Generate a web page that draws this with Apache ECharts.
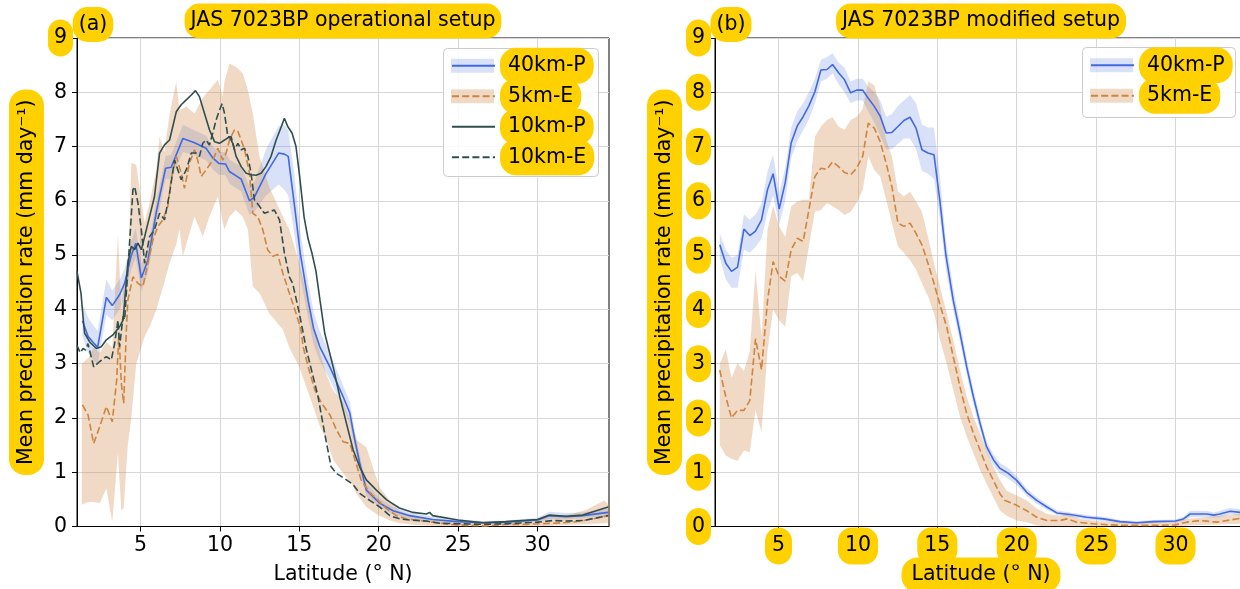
<!DOCTYPE html>
<html><head><meta charset="utf-8">
<script src="https://cdn.jsdelivr.net/npm/echarts@6/dist/echarts.min.js"></script>
<style>html,body{margin:0;padding:0;background:#fff}#c{width:1240px;height:589px}</style>
</head><body><div id="c"></div>
<script>
// ---------------- data ----------------
const xTicks = [5, 10, 15, 20, 25, 30];
const yTicks = [0, 1, 2, 3, 4, 5, 6, 7, 8, 9];
const titleA = 'JAS 7023BP operational setup';
const titleB = 'JAS 7023BP modified setup';
const xName = 'Latitude (° N)';
const yName = 'Mean precipitation rate (mm day⁻¹)';

// panel (a): [latitude, value]
const a40kmP = [[1.34,3.79],[1.7,3.5],[2.05,3.38],[2.3,3.3],[2.85,4.22],[3.22,4.07],[3.68,4.27],[4.0,4.48],[4.4,4.98],[4.7,5.22],[5.05,4.58],[5.47,4.91],[6.0,5.8],[6.58,6.6],[6.93,6.62],[7.67,7.15],[8.4,7.07],[9.13,6.97],[9.55,6.79],[9.93,6.69],[10.35,6.68],[10.6,6.54],[11.34,6.4],[11.86,6.0],[12.17,6.07],[12.9,6.5],[13.7,6.88],[14.06,6.86],[14.3,6.82],[14.68,5.95],[15.06,5.03],[15.55,4.17],[15.9,3.65],[16.29,3.31],[16.92,2.94],[17.76,2.39],[18.18,2.09],[18.49,1.6],[18.8,1.17],[19.22,0.67],[20.06,0.43],[20.9,0.29],[21.95,0.2],[23.4,0.13],[25,0.09],[26.6,0.07],[28,0.08],[30,0.12],[30.75,0.2],[31.8,0.18],[32.85,0.2],[34.45,0.26]];
// [latitude, low, high]
const a40kmPBand = [[1.34,3.5,4.1],[1.7,3.2,3.85],[2.05,3.05,3.7],[2.3,3.0,3.6],[2.85,3.9,4.55],[3.22,3.8,4.35],[3.68,4.0,4.55],[4.0,4.2,4.75],[4.4,4.72,5.25],[4.7,4.95,5.5],[5.05,4.33,4.83],[5.47,4.68,5.14],[6.0,5.58,6.02],[6.58,6.4,6.82],[6.93,6.4,6.85],[7.67,6.9,7.4],[8.4,6.84,7.3],[9.13,6.75,7.2],[9.55,6.58,7.0],[9.93,6.48,6.9],[10.35,6.47,6.9],[10.6,6.32,6.76],[11.34,6.17,6.63],[11.86,5.74,6.26],[12.17,5.8,6.35],[12.9,6.1,6.95],[13.7,6.3,7.38],[14.06,6.2,7.4],[14.3,6.1,7.3],[14.68,5.4,6.5],[15.06,4.6,5.45],[15.55,3.85,4.5],[15.9,3.35,3.95],[16.29,3.05,3.6],[16.92,2.7,3.2],[17.76,2.2,2.6],[18.18,1.9,2.3],[18.49,1.45,1.78],[18.8,1.02,1.32],[19.22,0.56,0.8],[20.06,0.35,0.52],[20.9,0.22,0.36],[21.95,0.14,0.26],[23.4,0.08,0.18],[25,0.05,0.13],[26.6,0.04,0.1],[28,0.05,0.11],[30,0.08,0.16],[30.75,0.14,0.27],[31.8,0.13,0.25],[32.85,0.15,0.26],[34.45,0.2,0.33]];
const a5kmE = [[1.34,2.24],[1.69,2.06],[2.05,1.53],[2.43,1.84],[2.85,2.21],[3.22,1.93],[3.5,2.7],[3.64,3.56],[3.79,2.64],[3.94,2.27],[4.1,3.56],[4.2,4.17],[4.52,4.6],[4.84,4.48],[5.15,4.42],[5.47,4.85],[5.78,5.28],[6.1,5.53],[6.41,5.65],[6.72,5.9],[6.93,6.39],[7.25,6.82],[7.56,6.51],[7.77,6.23],[8.08,6.69],[8.4,6.94],[8.6,6.75],[8.82,6.45],[9.13,6.57],[9.55,6.75],[9.87,6.97],[10.18,6.75],[10.39,6.88],[10.6,7.12],[10.92,7.31],[11.13,7.28],[11.34,7.12],[11.55,6.94],[11.86,6.51],[12.07,5.77],[12.38,5.71],[12.7,5.47],[13.0,5.1],[13.33,4.98],[13.64,5.01],[13.96,4.67],[14.37,4.3],[14.79,3.93],[15.1,3.63],[15.24,3.31],[15.56,2.94],[15.97,2.52],[16.4,2.27],[16.92,2.06],[17.34,1.78],[17.76,1.56],[18.18,1.53],[18.5,1.23],[18.9,0.85],[19.43,0.63],[19.96,0.48],[20.5,0.33],[21.1,0.2],[21.74,0.14],[22.58,0.11],[23.4,0.08],[24.47,0.04],[25.5,0.02],[26.77,0.01],[28,0.04],[29.3,0.04],[30,0.05],[31,0.06],[32.2,0.08],[33.5,0.14],[34.45,0.2]];
const a5kmEBand = [[1.3,0.4,3.0],[1.7,0.45,3.1],[2.05,0.45,3.3],[2.43,0.43,3.2],[2.85,0.7,3.4],[3.22,0.08,3.3],[3.58,1.35,5.4],[3.79,0.3,4.0],[3.94,0.33,4.5],[4.2,1.5,4.6],[4.42,2.0,6.7],[4.73,3.0,6.66],[5.05,3.3,6.0],[5.26,3.5,5.6],[5.6,3.7,6.0],[6.0,4.0,6.6],[6.2,4.2,7.18],[6.5,4.5,6.9],[6.83,4.85,7.6],[7.25,5.2,8.2],[7.45,5.47,7.67],[7.67,4.98,7.7],[7.88,5.2,7.74],[8.4,5.71,7.61],[8.92,5.34,7.9],[9.34,5.71,8.04],[9.87,6.08,8.23],[10.18,5.6,7.92],[10.29,5.47,8.2],[10.6,5.71,8.53],[11.0,5.83,8.47],[11.44,5.7,8.35],[11.76,5.47,8.04],[12.07,4.42,7.61],[12.49,4.3,6.82],[13.1,3.93,6.26],[13.96,3.63,5.71],[14.37,3.3,5.47],[15.0,2.94,4.85],[15.45,2.56,4.3],[15.87,2.21,3.7],[16.3,1.84,3.2],[16.7,1.6,2.8],[17.13,1.23,2.5],[17.76,0.98,2.3],[18.39,0.74,1.8],[18.6,0.6,1.6],[19.22,0.36,1.46],[19.85,0.23,0.9],[20.06,0.2,0.72],[20.7,0.11,0.48],[21.3,0.06,0.29],[22.16,0.03,0.2],[23.4,0.01,0.14],[25,0.0,0.1],[27,0.0,0.09],[29,0.0,0.1],[30,0.0,0.12],[31,0.02,0.2],[32,0.03,0.22],[33,0.04,0.3],[34.2,0.06,0.48],[34.5,0.08,0.4]];
const a10kmP = [[1.0,4.7],[1.1,4.73],[1.25,4.3],[1.4,3.8],[1.48,3.56],[1.8,3.4],[2.22,3.28],[2.53,3.31],[2.85,3.44],[3.26,3.53],[3.68,3.68],[3.9,3.8],[4.0,3.81],[4.2,4.85],[4.42,5.16],[4.63,5.1],[4.84,5.22],[5.05,5.1],[5.26,5.34],[5.57,5.71],[5.88,6.08],[6.2,6.88],[6.51,7.03],[6.83,7.12],[7.25,7.64],[7.56,7.77],[7.88,7.86],[8.2,7.95],[8.46,8.03],[8.71,7.92],[9.03,7.61],[9.34,7.31],[9.66,7.09],[9.97,7.06],[10.29,7.12],[10.6,7.18],[10.81,7.06],[11.02,6.82],[11.34,6.63],[11.65,6.51],[11.96,6.48],[12.28,6.47],[12.59,6.51],[12.9,6.63],[13.22,6.82],[13.54,7.12],[13.79,7.31],[14.06,7.52],[14.27,7.37],[14.54,7.25],[14.79,7.0],[15.0,6.5],[15.3,5.7],[15.55,5.3],[15.8,5.03],[16.05,4.7],[16.3,4.17],[16.6,3.56],[17.13,2.94],[17.55,2.39],[18.07,1.78],[18.39,1.41],[18.8,1.1],[19.22,0.86],[19.85,0.67],[20.5,0.49],[21.3,0.34],[22.16,0.26],[23.0,0.23],[23.2,0.26],[23.4,0.2],[25,0.12],[26.56,0.07],[28,0.09],[30,0.13],[30.75,0.21],[31.8,0.19],[32.85,0.21],[34.45,0.36]];
const a10kmE = [[1.0,3.34],[1.2,3.2],[1.38,3.28],[1.55,3.25],[1.69,3.37],[2.05,2.94],[2.43,3.04],[2.85,3.13],[3.16,3.07],[3.37,3.37],[3.58,3.8],[3.68,3.31],[3.9,3.87],[4.0,3.81],[4.15,4.5],[4.31,5.22],[4.52,6.2],[4.63,6.26],[4.84,5.96],[5.05,5.47],[5.26,4.85],[5.57,5.34],[5.88,5.47],[6.2,5.77],[6.51,5.65],[6.83,6.14],[7.14,6.75],[7.35,6.57],[7.56,6.39],[7.88,6.57],[8.2,6.88],[8.5,6.88],[8.71,6.82],[8.92,7.06],[9.13,7.12],[9.34,7.03],[9.55,7.25],[9.76,7.49],[9.97,7.67],[10.14,7.79],[10.29,7.61],[10.5,7.18],[10.71,7.18],[10.92,6.94],[11.13,7.06],[11.34,6.94],[11.55,6.97],[11.76,6.82],[11.96,6.51],[12.17,6.02],[12.49,5.9],[12.8,5.77],[13.1,5.8],[13.43,5.83],[13.75,5.65],[14.06,5.04],[14.37,4.6],[14.58,4.48],[15.0,3.93],[15.2,3.63],[15.45,3.25],[15.87,2.76],[16.18,2.39],[16.6,1.71],[17.0,1.1],[17.33,0.98],[17.97,0.86],[18.39,0.77],[18.8,0.61],[19.43,0.48],[20.06,0.36],[20.7,0.2],[21.32,0.14],[21.95,0.12],[23,0.1],[23.84,0.06],[25,0.05],[26.56,0.04],[28,0.05],[30,0.08],[30.96,0.11],[31.8,0.1],[32.85,0.11],[34.45,0.2]];

// panel (b)
const b40kmP = [[1.3,5.19],[1.68,4.85],[2.04,4.7],[2.42,4.78],[2.82,5.48],[3.19,5.36],[3.55,5.44],[3.93,5.65],[4.31,6.21],[4.66,6.5],[5.04,5.85],[5.42,6.33],[5.8,7.07],[6.18,7.38],[6.55,7.55],[6.91,7.75],[7.29,8.01],[7.67,8.41],[8.05,8.42],[8.4,8.51],[8.78,8.36],[9.16,8.23],[9.54,7.99],[9.92,8.04],[10.3,8.04],[10.65,7.89],[11.03,7.74],[11.4,7.56],[11.78,7.25],[12.14,7.26],[12.52,7.37],[12.9,7.48],[13.28,7.54],[13.66,7.34],[14.03,6.94],[14.41,6.88],[14.79,6.85],[15.16,6.0],[15.53,5.02],[16.0,4.17],[16.43,3.56],[16.85,2.94],[17.27,2.39],[17.69,1.9],[18.1,1.47],[18.53,1.23],[18.95,1.07],[19.47,0.98],[20,0.85],[20.63,0.63],[21.26,0.48],[21.9,0.36],[22.52,0.25],[23.36,0.22],[24.41,0.17],[25.46,0.14],[26.5,0.09],[27.56,0.07],[28.6,0.09],[30,0.1],[30.5,0.14],[30.92,0.23],[31.97,0.23],[32.4,0.21],[32.8,0.23],[33.44,0.28],[34.07,0.26],[34.5,0.26]];
const b40kmPBand = [[1.3,4.95,5.4],[1.68,4.55,5.1],[2.04,4.4,4.95],[2.42,4.4,5.0],[2.82,5.1,5.75],[3.19,5.05,5.65],[3.55,5.15,5.75],[3.93,5.3,5.95],[4.31,5.8,6.55],[4.66,6.1,6.85],[5.04,5.55,6.15],[5.42,6.0,6.6],[5.8,6.8,7.35],[6.18,7.1,7.65],[6.55,7.3,7.8],[6.91,7.5,8.0],[7.29,7.8,8.25],[7.67,8.2,8.6],[8.05,8.25,8.65],[8.4,8.35,8.72],[8.78,8.15,8.55],[9.16,8.0,8.45],[9.54,7.8,8.2],[9.92,7.85,8.25],[10.3,7.85,8.25],[10.65,7.65,8.1],[11.03,7.45,8.0],[11.4,7.2,7.85],[11.78,6.95,7.55],[12.14,6.95,7.6],[12.52,7.05,7.75],[12.9,7.15,7.85],[13.28,7.15,7.95],[13.66,6.95,7.8],[14.03,6.55,7.4],[14.41,6.5,7.35],[14.79,6.4,7.35],[15.16,5.7,6.45],[15.53,4.75,5.3],[16.0,4.0,4.4],[16.43,3.4,3.75],[16.85,2.8,3.1],[17.27,2.25,2.53],[17.69,1.78,2.02],[18.1,1.37,1.57],[18.53,1.13,1.33],[18.95,0.97,1.17],[19.47,0.88,1.08],[20,0.77,0.93],[20.63,0.56,0.7],[21.26,0.42,0.54],[21.9,0.31,0.41],[22.52,0.21,0.3],[23.36,0.18,0.26],[24.41,0.13,0.21],[25.46,0.1,0.18],[26.5,0.06,0.12],[27.56,0.04,0.1],[28.6,0.06,0.12],[30,0.07,0.13],[30.5,0.1,0.18],[30.92,0.17,0.29],[31.97,0.17,0.29],[32.4,0.16,0.26],[32.8,0.17,0.29],[33.44,0.22,0.34],[34.07,0.2,0.32],[34.5,0.2,0.32]];
const b5kmE = [[1.3,2.88],[1.68,2.39],[2.04,2.0],[2.42,2.14],[2.82,2.14],[3.19,2.32],[3.55,3.46],[3.93,2.89],[4.31,4.17],[4.66,4.88],[5.04,4.61],[5.42,4.52],[5.8,5.1],[6.18,5.31],[6.55,5.25],[6.91,5.83],[7.29,6.45],[7.67,6.6],[8.05,6.58],[8.4,6.72],[8.78,6.63],[9.16,6.52],[9.54,6.48],[9.92,6.6],[10.3,6.82],[10.65,7.43],[11.03,7.34],[11.4,7.09],[11.78,6.69],[12.14,6.26],[12.52,5.59],[12.9,5.53],[13.28,5.59],[13.66,5.4],[14.03,5.19],[14.41,4.85],[14.79,4.48],[15.17,4.08],[15.59,3.68],[16.0,3.13],[16.43,2.57],[16.85,2.08],[17.27,1.72],[17.69,1.41],[18.1,1.1],[18.53,0.85],[18.95,0.6],[19.26,0.48],[20,0.39],[20.63,0.29],[21.26,0.17],[21.9,0.11],[22.73,0.11],[23.15,0.14],[23.78,0.08],[24.83,0.05],[25.88,0.03],[26.93,0.02],[28.6,0.02],[30,0.03],[30.7,0.08],[31.55,0.11],[32.6,0.08],[33.44,0.12],[34.07,0.15],[34.5,0.15]];
const b5kmEBand = [[1.3,1.5,3.0],[1.68,1.31,3.26],[2.04,1.25,2.74],[2.42,1.21,3.01],[2.82,1.4,2.86],[3.19,1.37,3.23],[3.55,2.14,4.73],[3.93,1.74,3.5],[4.31,3.24,5.47],[4.66,4.0,5.9],[5.04,3.8,5.53],[5.42,3.68,5.34],[5.8,4.61,5.9],[6.18,4.67,5.99],[6.55,4.52,6.02],[6.91,5.16,6.02],[7.29,5.8,7.18],[7.67,5.83,7.37],[8.05,5.96,7.49],[8.4,5.9,7.54],[8.78,5.83,7.37],[9.16,5.74,7.31],[9.54,5.8,7.49],[9.92,5.96,7.55],[10.3,6.2,7.69],[10.65,6.82,8.2],[11.03,6.57,8.13],[11.4,6.45,7.74],[11.78,6.02,7.12],[12.14,5.59,6.82],[12.52,5.16,6.17],[12.9,5.04,6.08],[13.28,4.91,6.17],[13.66,4.73,5.99],[14.03,4.48,5.8],[14.41,4.24,5.34],[14.79,3.93,4.85],[15.17,3.44,4.42],[15.59,3.0,3.93],[16.0,2.52,3.44],[16.43,2.02,2.88],[16.85,1.66,2.39],[17.27,1.35,2.02],[17.69,1.04,1.72],[18.1,0.79,1.41],[18.53,0.54,1.1],[18.95,0.29,0.85],[19.37,0.2,0.66],[20,0.11,0.57],[20.63,0.08,0.48],[21.26,0.02,0.33],[21.9,0.0,0.23],[22.73,0.0,0.2],[23.15,0.0,0.23],[24,0.0,0.14],[25.05,0.0,0.1],[26.5,0.0,0.08],[30,0.0,0.08],[30.7,0.02,0.14],[34.07,0.05,0.23],[34.5,0.05,0.23]];

// ---------------- style ----------------
const FONT = 'DejaVu Sans';
const FS = 20.5;
const YEL = '#FFD100';
const BLUE = '#4169E1', BLUE_BAND = 'rgba(65,105,225,0.2)';
const PERU = '#CD853F', PERU_BAND = 'rgba(205,133,63,0.3)';
const DSG = '#2F4F4F';
const DASH = [7, 3.2];
const GRIDC = '#d7d7d7';
const G0 = {left: 77, top: 38, width: 532, height: 488.5};
const G1 = {left: 715, top: 38, width: 532, height: 488.5};

function bandSeries(name, rows, color, idx) {
  return {
    type: 'custom', name: name, xAxisIndex: idx, yAxisIndex: idx, z: 1, silent: true, clip: true,
    data: rows, encode: {x: 0, y: [1, 2]},
    renderItem: function (params, api) {
      if (params.dataIndex !== 0) return null;
      const top = rows.map(r => api.coord([r[0], r[2]]));
      const bot = rows.map(r => api.coord([r[0], r[1]])).reverse();
      return {type: 'polygon', shape: {points: top.concat(bot)}, style: {fill: color}};
    }
  };
}
function lineSeries(name, data, color, dashed, idx) {
  return {
    type: 'line', name: name, xAxisIndex: idx, yAxisIndex: idx, data: data, z: 2,
    symbol: 'none', showSymbol: false, silent: true, clip: true,
    lineStyle: {color: color, width: 1.6, type: dashed ? DASH : 'solid'},
    itemStyle: {color: color}
  };
}
function xAxis(idx, highlight) {
  return {
    gridIndex: idx, type: 'value', min: 1, max: 34.5, minInterval: 5, maxInterval: 5,
    axisLine: {show: true, onZero: false, lineStyle: {color: '#000', width: 1}},
    axisTick: {show: true, length: 5, customValues: xTicks, lineStyle: {color: '#000'}},
    axisLabel: {customValues: xTicks, margin: 1, fontSize: FS, fontFamily: FONT, color: '#000',
      padding: [8, 7], borderRadius: 14, backgroundColor: highlight ? YEL : 'transparent'},
    splitLine: {show: true, lineStyle: {color: GRIDC, width: 1}},
    name: xName, nameLocation: 'middle', nameGap: 31, nameMoveOverlap: false,
    nameTextStyle: {fontSize: FS, fontFamily: FONT, color: '#000', padding: [7, 10], borderRadius: 16,
      backgroundColor: highlight ? YEL : 'transparent'}
  };
}
function yAxis(idx, highlightAll) {
  return {
    gridIndex: idx, type: 'value', min: 0, max: 9, interval: 1,
    axisLine: {show: true, lineStyle: {color: '#000', width: 1}},
    axisTick: {show: true, length: 5, lineStyle: {color: '#000'}},
    splitLine: {show: true, lineStyle: {color: GRIDC, width: 1}},
    axisLabel: {
      margin: 4, color: '#000', fontSize: FS, fontFamily: FONT,
      formatter: v => (highlightAll || v === yTicks[yTicks.length - 1]) ? '{h|' + v + '}' : '{n|' + v + '}',
      rich: {
        h: {fontSize: FS, fontFamily: FONT, color: '#000', backgroundColor: YEL, padding: [8, 6], borderRadius: 13},
        n: {fontSize: FS, fontFamily: FONT, color: '#000', padding: [8, 6]}
      }
    },
    name: yName, nameLocation: 'middle', nameGap: 33, nameMoveOverlap: false,
    nameTextStyle: {fontSize: FS, fontFamily: FONT, color: '#000', backgroundColor: YEL, padding: [7, 10], borderRadius: 16}
  };
}
function label(text, x, y) {
  return {type: 'text', x: x, y: y, z: 10,
    style: {text: text, fontSize: FS, fontFamily: FONT, fill: '#000', backgroundColor: YEL,
      padding: [7, 6], borderRadius: 15, align: 'center', verticalAlign: 'middle'}};
}
const legendText = {fontSize: FS, fontFamily: FONT, color: '#000', backgroundColor: YEL,
  padding: [8, 8], borderRadius: 16, lineHeight: 20};
const gridBase = {show: true, borderColor: '#000', borderWidth: 1, backgroundColor: 'transparent',
  containLabel: false, outerBoundsMode: 'none'};

const chart = echarts.init(document.getElementById('c'), null, {renderer: 'canvas'});
chart.setOption({
  animation: false,
  backgroundColor: '#fff',
  grid: [Object.assign({}, gridBase, G0), Object.assign({}, gridBase, G1)],
  xAxis: [xAxis(0, false), xAxis(1, true)],
  yAxis: [yAxis(0, false), yAxis(1, true)],
  legend: [
    {left: 451, top: 47.7, orient: 'vertical', padding: 0, itemGap: -5.5, itemWidth: 43, itemHeight: 14,
     itemStyle: {color: 'rgba(0,0,0,0)', borderWidth: 0, opacity: 0},
     data: ['40km-P', '5km-E', '10km-P', '10km-E'], textStyle: legendText, selectedMode: false, z: 7},
    {left: 1090, top: 47.2, orient: 'vertical', padding: 0, itemGap: -5.5, itemWidth: 43, itemHeight: 14,
     itemStyle: {color: 'rgba(0,0,0,0)', borderWidth: 0, opacity: 0},
     data: ['40km-P', '5km-E'], textStyle: legendText, selectedMode: false, z: 7}
  ],
  graphic: [
    {type: 'rect', z: 5, shape: {x: 443.5, y: 48.5, width: 155, height: 128, r: 4},
     style: {fill: 'rgba(255,255,255,0.85)', stroke: '#cccccc', lineWidth: 1}},
    {type: 'rect', z: 6, shape: {x: 451, y: 58.7, width: 43, height: 14}, style: {fill: BLUE_BAND}},
    {type: 'rect', z: 6, shape: {x: 451, y: 89.2, width: 43, height: 14}, style: {fill: PERU_BAND}},
    {type: 'rect', z: 5, shape: {x: 1082.5, y: 47.5, width: 153, height: 70, r: 4},
     style: {fill: 'rgba(255,255,255,0.85)', stroke: '#cccccc', lineWidth: 1}},
    {type: 'rect', z: 6, shape: {x: 1090, y: 58.2, width: 43, height: 14}, style: {fill: BLUE_BAND}},
    {type: 'rect', z: 6, shape: {x: 1090, y: 88.7, width: 43, height: 14}, style: {fill: PERU_BAND}},
    label('(a)', 93, 24.5),
    label(titleA, 343, 21),
    label('(b)', 731, 24.5),
    label(titleB, 981, 21)
  ],
  series: [
    bandSeries('40km-P band a', a40kmPBand, BLUE_BAND, 0),
    bandSeries('5km-E band a', a5kmEBand, PERU_BAND, 0),
    lineSeries('40km-P', a40kmP, BLUE, false, 0),
    lineSeries('5km-E', a5kmE, PERU, true, 0),
    lineSeries('10km-P', a10kmP, DSG, false, 0),
    lineSeries('10km-E', a10kmE, DSG, true, 0),
    bandSeries('40km-P band b', b40kmPBand, BLUE_BAND, 1),
    bandSeries('5km-E band b', b5kmEBand, PERU_BAND, 1),
    lineSeries('40km-P', b40kmP, BLUE, false, 1),
    lineSeries('5km-E', b5kmE, PERU, true, 1)
  ]
});
</script>
</body></html>
